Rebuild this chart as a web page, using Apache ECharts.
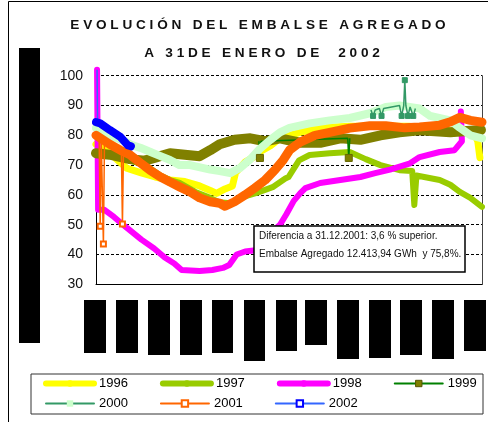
<!DOCTYPE html>
<html>
<head>
<meta charset="utf-8">
<script src="https://cdn.jsdelivr.net/npm/echarts@6/dist/echarts.min.js"></script>
<style>
  html, body { margin: 0; padding: 0; background: #fff; }
  #grafico { width: 488px; height: 422px; }
</style>
</head>
<body>
<div id="grafico"></div>
<script>
// eje x: dia del año (0-365), eje y: % del embalse
const serie1996 = [[0, 77], [13, 74], [29, 69], [42, 67.5], [56, 66], [70, 65], [84, 64.5], [98, 63], [108, 61.5], [114, 60.5], [122, 62], [129, 63], [132, 67.5], [141, 71], [148, 72.5], [155, 74.5], [165, 76.5], [174, 79], [193, 81], [212, 82.5], [240, 83], [269, 83], [297, 83], [325, 82], [349, 81], [358, 80.5], [361, 78], [363, 72.5]]
const serie1997 = [[0, 74], [13, 73], [27, 72], [42, 70.5], [51, 69], [61, 66.5], [70, 65], [79, 64], [94, 61], [108, 59], [117, 57.5], [127, 57.2], [136, 59], [152, 60.7], [167, 62.6], [179, 65.5], [182, 66], [192, 71.6], [202, 73.4], [221, 74], [240, 74.4], [255, 72], [269, 70], [287, 68.3], [299, 68], [301, 56.6], [303, 66.5], [325, 65], [335, 63.4], [344, 61], [354, 59], [365, 56]]
const serie1998 = [[1, 102], [2, 55], [8, 55], [17, 52.6], [29, 49], [43, 45], [55, 42], [65, 39], [74, 37], [81, 34.8], [98, 34.5], [110, 34.8], [120, 35.5], [126, 36.5], [133, 40], [141, 41], [153, 41.5], [160, 44.5], [166, 47.3], [174, 50], [180, 53.5], [187, 58], [193, 60.5], [198, 62.3], [212, 64], [231, 65], [250, 66], [264, 67.3], [278, 68.5], [297, 70.6], [306, 72.7], [325, 74.4], [339, 75], [346, 78], [345, 88]]
const serie1999 = [[0, 74], [13, 73.5], [32, 72], [46, 71.5], [56, 72.5], [70, 74], [84, 73.5], [98, 73], [108, 75], [117, 77], [131, 78.5], [146, 79], [160, 78], [174, 79], [193, 77.5], [212, 77.5], [231, 79], [250, 78.5], [269, 80], [287, 81], [306, 81.7], [335, 81], [354, 81.5], [364, 81.8]]
const saltos1999 = [[154, 78], [155, 72.4], [156, 78], [238, 79], [239, 72.4], [240, 79]]
const serie2000 = [[0, 82.5], [13, 80], [27, 78], [34, 76.7], [42, 75.8], [51, 74.5], [61, 73], [70, 71.7], [79, 70], [89, 70], [108, 68.5], [117, 68], [127, 67.3], [136, 69], [146, 72], [155, 75.5], [165, 78.5], [174, 81], [183, 82.5], [202, 84], [221, 85], [240, 85.8], [259, 87.4], [274, 89.5], [287, 90], [306, 89], [316, 86.5], [335, 85], [344, 82.5], [354, 80], [365, 79]]
const saltos2000 = [[260, 88.5], [262, 86.5], [264, 88.5], [268, 89], [270, 86.5], [272, 89], [287, 90], [289, 86.5], [291, 90], [291, 90], [292, 98.5], [293, 90], [293, 90], [295, 86.5], [297, 89.5], [298, 89.5], [300, 86.5], [302, 89]]
const serie2001 = [[0, 80], [13, 77], [23, 75], [32, 73.5], [42, 70.7], [51, 68.3], [61, 66], [70, 64.3], [79, 62.7], [89, 61], [98, 59], [108, 57.7], [117, 57.2], [122, 56.2], [131, 57.7], [141, 60], [150, 62.3], [160, 65], [169, 68.3], [177, 71.7], [183, 75], [193, 77.7], [207, 80], [221, 81], [240, 82.4], [259, 83.2], [274, 83.2], [292, 82.5], [306, 82.8], [325, 83.4], [335, 84.5], [344, 86], [354, 85], [365, 84.4]]
const saltos2001 = [[3, 78.5], [4, 49.5], [5, 78.5], [6, 78], [7, 43.5], [8, 77.5], [24, 75], [25, 50.2], [26, 74.8]]
const serie2002 = [[0, 84.4], [4, 84], [13, 81.8], [23, 79.5], [30, 76.7], [33, 76.3]]
const saltos2002 = [[1, 102], [1.5, 84]]

const ticksY = [30, 100, 10]
const titulo1 = 'E V O L U C I Ó N   D E L   E M B A L S E   A G R E G A D O'
const titulo2 = 'A   3 1 D E   E N E R O   D E     2 0 0 2'
const nota1 = 'Diferencia a 31.12.2001: 3,6 % superior.'
const nota2 = 'Embalse Agregado 12.413,94 GWh  y 75,8%.'
// cajas negras que tapan las etiquetas del eje x: [x0, x1, yFin]
const cajasEjeX = [[84, 106, 353], [116, 138, 353], [148, 170, 355], [180, 202, 355], [212, 233, 353], [244, 265, 361], [276, 297, 351], [305, 327, 345], [337, 359, 359], [369, 391, 358], [400, 422, 355], [432, 454, 359], [464, 486, 351]]

const fuente = "'Liberation Sans', Arial, sans-serif"

// solo el punto central de cada trio lleva marca
const marcarSaltos = (puntos, simbolo) => puntos.map((p, i) => ({ value: p, symbol: i % 3 === 1 ? simbolo : 'none' }))

const lineaGruesa = (nombre, datos, color, ancho) => ({
  name: nombre,
  type: 'line',
  data: datos,
  symbol: 'none',
  lineStyle: { color: color, width: ancho, cap: 'round', join: 'round' },
  itemStyle: { color: color }
})

const banda = (nombre, datos, color, ancho, simbolo) => ({
  name: nombre,
  type: 'line',
  data: datos,
  symbol: simbolo,
  showSymbol: false,
  lineStyle: { color: color, width: ancho, cap: 'round', join: 'round' },
  itemStyle: { color: color }
})

const saltos = (nombre, datos, colorLinea, relleno, borde, tam) => ({
  name: nombre,
  type: 'line',
  data: datos,
  symbolSize: tam,
  clip: false,
  lineStyle: { color: colorLinea, width: 1.5 },
  itemStyle: { color: relleno, borderColor: borde, borderWidth: 1 }
})

const chart = echarts.init(document.getElementById('grafico'))

const option = {
  animation: false,
  backgroundColor: '#fff',
  textStyle: { fontFamily: fuente },
  grid: { left: 96, right: 6, top: 75.7, bottom: 137.7 },
  xAxis: {
    type: 'value',
    min: 0,
    max: 365,
    axisLine: { lineStyle: { color: '#000', width: 1 } },
    axisTick: { show: false },
    axisLabel: { show: false },
    splitLine: { show: false }
  },
  yAxis: [
    {
      type: 'value',
      min: ticksY[0],
      max: ticksY[1],
      interval: ticksY[2],
      axisLine: { show: true, lineStyle: { color: '#000', width: 1 } },
      axisTick: { show: false },
      axisLabel: { fontSize: 14, color: '#111', margin: 13, fontFamily: fuente },
      splitLine: { lineStyle: { color: '#000', type: [3, 2], width: 1 } }
    },
    {
      type: 'value',
      position: 'right',
      min: ticksY[0],
      max: ticksY[1],
      axisLine: { show: true, lineStyle: { color: '#444', width: 1 } },
      axisTick: { show: false },
      axisLabel: { show: false },
      splitLine: { show: false }
    }
  ],
  legend: [
    {
      left: 43,
      top: 377,
      padding: 0,
      itemWidth: 48,
      itemHeight: 8,
      itemGap: 32,
      textStyle: { fontSize: 13, color: '#000', fontFamily: fuente },
      data: [
        { name: '1996', lineStyle: { width: 6, cap: 'round' } },
        { name: '1997', lineStyle: { width: 6, cap: 'round' } },
        { name: '1998', lineStyle: { width: 6, cap: 'round' } },
        { name: '1999', lineStyle: { width: 2, color: '#008000' }, itemStyle: { color: '#808000', borderColor: '#555500', borderWidth: 1 } }
      ]
    },
    {
      left: 45,
      top: 397,
      padding: 0,
      itemWidth: 48,
      itemHeight: 8,
      itemGap: 32,
      textStyle: { fontSize: 13, color: '#000', fontFamily: fuente },
      data: [
        { name: '2000', lineStyle: { width: 2, color: '#339966' }, itemStyle: { color: '#CCFFCC' } },
        { name: '2001', lineStyle: { width: 2, color: '#FF6600' }, itemStyle: { color: '#FF6600' } },
        { name: '2002', lineStyle: { width: 2, color: '#3366FF' }, itemStyle: { color: '#0000FF' } }
      ]
    }
  ],
  series: [
    lineaGruesa('1996', serie1996, '#FFFF00', 7),
    lineaGruesa('1997', serie1997, '#99CC00', 6),
    Object.assign(lineaGruesa('1998', serie1998, '#FF00FF', 6), { clip: false }),
    banda('1999', serie1999, '#808000', 10, 'rect'),
    saltos('1999 saltos', marcarSaltos(saltos1999, 'rect'), '#008000', '#808000', '#666600', 7),
    banda('2000', serie2000, '#CCFFCC', 8, 'rect'),
    saltos('2000 saltos', marcarSaltos(saltos2000, 'rect'), '#339966', '#339966', '#339966', 5),
    saltos('2001 saltos', marcarSaltos(saltos2001, 'emptyRect'), '#FF6600', '#FF6600', '#FF6600', 5),
    banda('2001', serie2001, '#FF6600', 9, 'emptyRect'),
    Object.assign(saltos('2002 saltos', saltos2002, '#3366FF', '#0000FF', '#0000FF', 5), { symbol: 'none' }),
    banda('2002', serie2002, '#0000FF', 8, 'emptyRect')
  ],
  graphic: [
    // marco exterior (solo arriba e izquierda)
    { type: 'polyline', shape: { points: [[8.5, 430], [8.5, 1.5], [492, 1.5]] }, style: { stroke: '#000', fill: null, lineWidth: 1 } },
    // titulo
    { type: 'text', x: 258, y: 25, style: { text: titulo1, font: 'bold 13.6px ' + fuente, fill: '#111', textAlign: 'center', textVerticalAlign: 'middle' } },
    { type: 'text', x: 262, y: 53, style: { text: titulo2, font: 'bold 13.6px ' + fuente, fill: '#111', textAlign: 'center', textVerticalAlign: 'middle' } },
    // titulo eje y tapado
    { type: 'rect', shape: { x: 19, y: 48, width: 21, height: 295 }, style: { fill: '#000' } },
    // etiquetas eje x tapadas
    ...cajasEjeX.map(c => ({ type: 'rect', shape: { x: c[0], y: 300, width: c[1] - c[0], height: c[2] - 300 }, style: { fill: '#000' } })),
    // recuadro de la leyenda
    { type: 'rect', z: 1, shape: { x: 31, y: 374, width: 452, height: 40 }, style: { fill: null, stroke: '#333', lineWidth: 1 } },
    // nota
    { type: 'rect', z: 100, shape: { x: 254, y: 226, width: 211, height: 46 }, style: { fill: '#fff', stroke: '#000', lineWidth: 1.5 } },
    { type: 'text', z: 101, x: 259, y: 236, style: { text: nota1, font: '10px ' + fuente, fill: '#111', textVerticalAlign: 'middle' } },
    { type: 'text', z: 101, x: 259, y: 254, style: { text: nota2, font: '10px ' + fuente, fill: '#111', textVerticalAlign: 'middle' } }
  ]
}

chart.setOption(option)
</script>
</body>
</html>
